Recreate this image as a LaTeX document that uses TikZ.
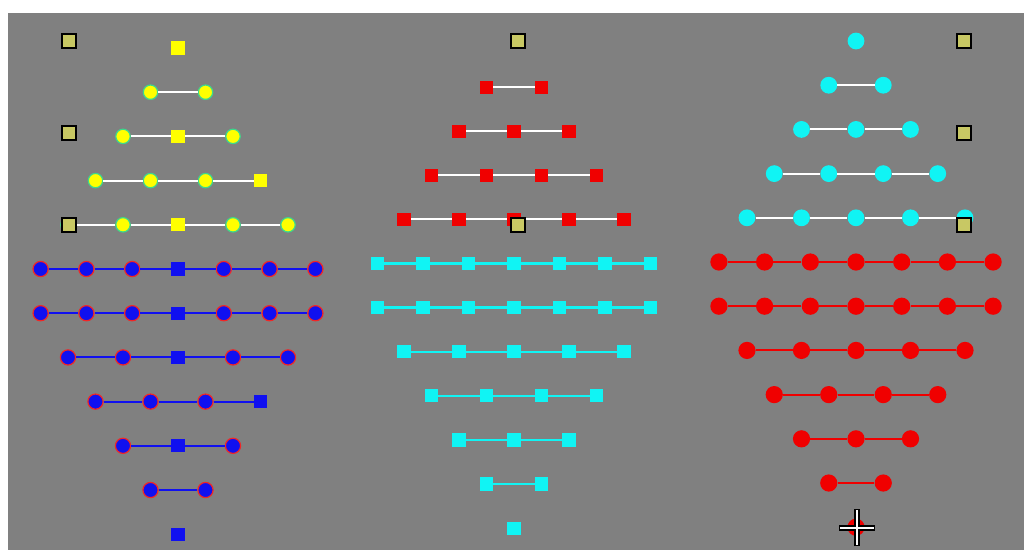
\documentclass[tikz,border=0pt]{standalone}
\usetikzlibrary{positioning}
\definecolor{panel}  {HTML}{808080}
\definecolor{sun}    {HTML}{FFFF00}
\definecolor{sunring}{HTML}{3CD88C}
\definecolor{deep}   {HTML}{1010F0}
\definecolor{ember}  {HTML}{F00000}
\definecolor{aqua}   {HTML}{10F4F4}
\definecolor{olive}  {HTML}{C8C864}

\begin{document}
\begin{tikzpicture}[
  x=0.25mm, y=-0.25mm,
  ydot/.style={circle, fill=sun, draw=sunring, line width=0.3mm, minimum size=3.6mm, inner sep=0pt},
  ysq/.style={rectangle, fill=sun, minimum size=3.3mm, inner sep=0pt},
  bdot/.style={circle, fill=deep, draw=ember!85, line width=0.3mm, minimum size=3.8mm, inner sep=0pt},
  bsq/.style={rectangle, fill=deep, minimum size=3.3mm, inner sep=0pt},
  rsq/.style={rectangle, fill=ember, minimum size=3.3mm, inner sep=0pt},
  csq/.style={rectangle, fill=aqua, minimum size=3.3mm, inner sep=0pt},
  cdot/.style={circle, fill=aqua, minimum size=4.2mm, inner sep=0pt},
  rdot/.style={circle, fill=ember, minimum size=4.3mm, inner sep=0pt},
  tag/.style={rectangle, fill=olive, draw=black, line width=0.5mm, minimum size=3.4mm, inner sep=0pt},
  wwire/.style={draw=white, line width=0.5mm},
  bwire/.style={draw=deep, line width=0.5mm},
  cwire/.style={draw=aqua, line width=0.6mm},
  rwire/.style={draw=ember, line width=0.5mm}
]
\useasboundingbox (0,0) rectangle (1024,550);
\fill[white] (0,0) rectangle (1024,550);
\fill[panel] (8,13) rectangle (1024,550);

% left panel
\foreach \r/\n/\s in {1/1/55,2/2/55,3/3/55,4/4/55,5/5/55}{
  \foreach \i in {1,...,\n}{
    \pgfmathtruncatemacro\mid{(2*\i==\n+1)||(\n==4 && \i==4)}
    \ifnum\mid=1 \def\st{ysq}\else\def\st{ydot}\fi
    \node[\st] (L\r-\i) at ({178+(\i-(\n+1)/2)*\s},{48+(\r-1)*44.2}) {};
  }
  \ifnum\n>1
    \foreach \i [evaluate=\i as \k using int(\i-1)] in {2,...,\n}
      \draw[wwire] (L\r-\k) -- (L\r-\i);
  \fi
}
\foreach \r/\n/\s in {6/7/45.8,7/7/45.8,8/5/55,9/4/55,10/3/55,11/2/55,12/1/55}{
  \foreach \i in {1,...,\n}{
    \pgfmathtruncatemacro\mid{(2*\i==\n+1)||(\n==4 && \i==4)}
    \ifnum\mid=1 \def\st{bsq}\else\def\st{bdot}\fi
    \node[\st] (L\r-\i) at ({178+(\i-(\n+1)/2)*\s},{48+(\r-1)*44.2}) {};
  }
  \ifnum\n>1
    \foreach \i [evaluate=\i as \k using int(\i-1)] in {2,...,\n}
      \draw[bwire] (L\r-\k) -- (L\r-\i);
  \fi
}

% middle panel
\foreach \r/\n/\s in {2/2/55,3/3/55,4/4/55,5/5/55}{
  \foreach \i in {1,...,\n}
    \node[rsq] (M\r-\i) at ({514+(\i-(\n+1)/2)*\s},{43+(\r-1)*44.1}) {};
  \foreach \i [evaluate=\i as \k using int(\i-1)] in {2,...,\n}
    \draw[wwire] (M\r-\k) -- (M\r-\i);
}
\foreach \r/\n/\s in {6/7/45.5,7/7/45.5,8/5/55,9/4/55,10/3/55,11/2/55,12/1/55}{
  \foreach \i in {1,...,\n}
    \node[csq] (M\r-\i) at ({514+(\i-(\n+1)/2)*\s},{43+(\r-1)*44.1}) {};
  \ifnum\n>1
    \foreach \i [evaluate=\i as \k using int(\i-1)] in {2,...,\n}
      \draw[cwire] (M\r-\k) -- (M\r-\i);
  \fi
}

% right panel
\foreach \r/\n/\s in {1/1/54.5,2/2/54.5,3/3/54.5,4/4/54.5,5/5/54.5}{
  \foreach \i in {1,...,\n}
    \node[cdot] (R\r-\i) at ({856+(\i-(\n+1)/2)*\s},{41+(\r-1)*44.2}) {};
  \ifnum\n>1
    \foreach \i [evaluate=\i as \k using int(\i-1)] in {2,...,\n}
      \draw[wwire] (R\r-\k) -- (R\r-\i);
  \fi
}
\foreach \r/\n/\s in {6/7/45.7,7/7/45.7,8/5/54.5,9/4/54.5,10/3/54.5,11/2/54.5,12/1/54.5}{
  \foreach \i in {1,...,\n}
    \node[rdot] (R\r-\i) at ({856+(\i-(\n+1)/2)*\s},{41+(\r-1)*44.2}) {};
  \ifnum\n>1
    \foreach \i [evaluate=\i as \k using int(\i-1)] in {2,...,\n}
      \draw[rwire] (R\r-\k) -- (R\r-\i);
  \fi
}

% olive tags
\foreach \x/\y in {69/41,69/133,69/225,518/41,518/225,964/41,964/133,964/225}
  \node[tag] (tag\x-\y) at (\x,\y) {};

% cursor
\coordinate (cursor) at (857,528);
\draw[black, line width=1.3mm] ([xshift=-18*0.25mm]cursor) -- ([xshift=18*0.25mm]cursor)
  ([yshift=-18*0.25mm]cursor) -- ([yshift=19*0.25mm]cursor);
\draw[white, line width=0.7mm] ([xshift=-17*0.25mm]cursor) -- ([xshift=17*0.25mm]cursor)
  ([yshift=-17*0.25mm]cursor) -- ([yshift=18*0.25mm]cursor);
\end{tikzpicture}
\end{document}
